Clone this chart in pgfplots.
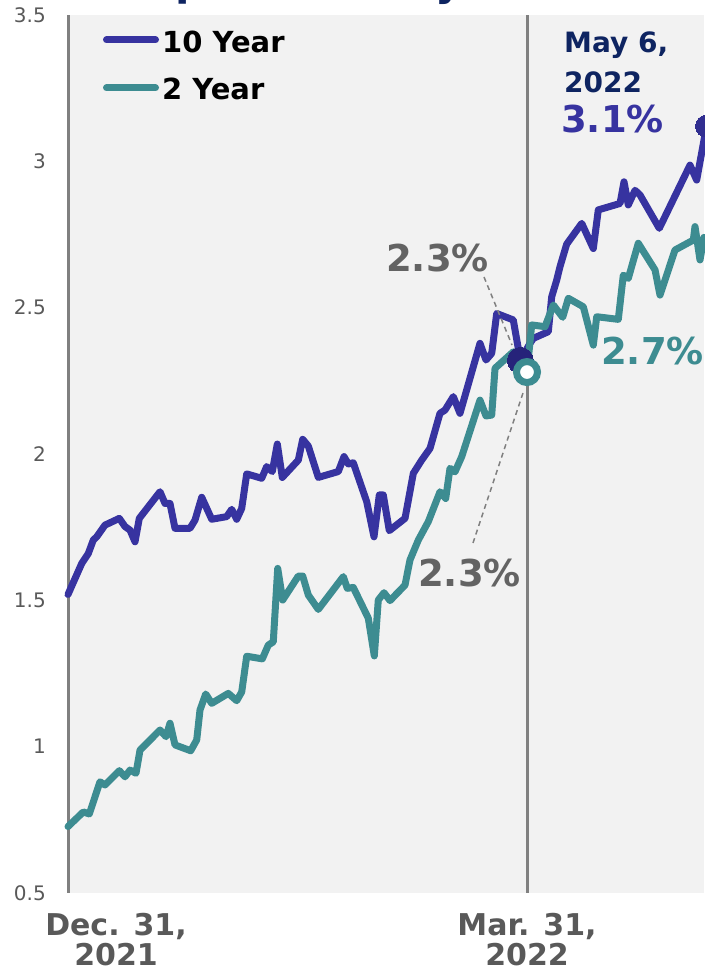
\documentclass[border=0pt]{standalone}
\usepackage{pgfplots}
\pgfplotsset{compat=1.18}
\usepackage{fontspec}
\setmainfont{DejaVu Sans}
\definecolor{tenY}{HTML}{3733A0}
\definecolor{twoY}{HTML}{3D8C91}
\definecolor{navy}{HTML}{0E2461}
\definecolor{darknavy}{HTML}{26237A}
\definecolor{bg}{HTML}{F2F2F2}
\definecolor{axgray}{HTML}{808080}
\definecolor{tickgray}{HTML}{595959}
\definecolor{anngray}{HTML}{636363}
\newcommand{\annfont}{\fontsize{37}{40}\selectfont\bfseries}
\newcommand{\legfont}{\fontsize{29}{32}\selectfont\bfseries}
\newcommand{\marlabel}{Mar. 31,\\2022}
\newcommand{\declabel}{Dec. 31,\\2021}
\begin{document}
\begin{tikzpicture}[x=1pt,y=1pt]
\path[use as bounding box] (0,0) rectangle (704,971);
\begin{axis}[
  at={(68pt,78pt)}, anchor=south west,
  scale only axis, width=636pt, height=878pt,
  xmin=0, xmax=124.706, ymin=0.5, ymax=3.5,
  clip=false,
  axis background/.style={fill=bg},
  axis x line*=bottom, axis y line*=left,
  x axis line style={draw=none},
  y axis line style={axgray, line width=3pt, -},
  major tick length=0pt,
  ytick={0.5,1,1.5,2,2.5,3,3.5},
  yticklabels={0.5,1,1.5,2,2.5,3,3.5},
  yticklabel style={font=\fontsize{20}{20}\selectfont, text=tickgray, inner sep=0pt, anchor=east, xshift=-22pt},
  xtick={90},
  xticklabels={\marlabel},
  extra x ticks={0},
  extra x tick labels={\declabel},
  extra x tick style={xticklabel style={xshift=48pt}},
  xticklabel style={font=\fontsize{30}{30}\selectfont\bfseries, text=tickgray, align=center, inner sep=0pt, anchor=north, yshift=-20pt},
  /pgf/number format/assume math mode=true,
]
\draw[axgray, line width=3pt] (axis cs:90,0.5) -- (axis cs:90,3.5);

\addplot[tenY, line width=7pt, line join=round, line cap=round] coordinates {
(0,1.52) (2.69,1.626) (3.98,1.66) (4.96,1.706) (5.63,1.717) (7.25,1.757) (10.06,1.78) (11.18,1.752) (12.16,1.74) (13.14,1.70) (13.98,1.78) (18.04,1.871) (19.02,1.831) (20.0,1.831) (20.98,1.746) (23.92,1.746) (24.9,1.774) (26.22,1.852) (28.18,1.777) (31.12,1.786) (32.1,1.811) (33.08,1.777) (34.06,1.814) (35.04,1.932) (37.98,1.917) (38.96,1.957) (40.06,1.94) (41.04,2.034) (42.02,1.92) (45.16,1.979) (46.02,2.05) (47.12,2.027) (49.08,1.92) (53.0,1.94) (54.12,1.991) (54.96,1.966) (55.94,1.97) (58.57,1.837) (60.0,1.717) (61.04,1.86) (61.82,1.86) (63.0,1.738) (66.08,1.78) (67.71,1.934) (69.35,1.979) (70.98,2.019) (72.94,2.139) (73.92,2.15) (75.55,2.196) (76.86,2.139) (80.78,2.378) (81.96,2.321) (83.08,2.344) (84.06,2.48) (87.31,2.458) (88.7,2.32) (90.59,2.378) (91.24,2.395) (94.18,2.418) (94.84,2.537) (95.82,2.594) (96.47,2.64) (97.78,2.717) (100.73,2.788) (103.0,2.702) (103.98,2.834) (108.24,2.856) (109.02,2.93) (109.86,2.851) (111.18,2.901) (112.16,2.885) (115.94,2.771) (121.96,2.987) (123.27,2.936) (125.2,3.12)
};
\addplot[twoY, line width=7pt, line join=round, line cap=round] coordinates {
(0,0.727) (3.0,0.777) (4.18,0.77) (6.27,0.88) (7.25,0.869) (10.06,0.918) (11.18,0.897) (12.16,0.92) (13.33,0.909) (14.12,0.988) (18.04,1.057) (19.22,1.034) (20.0,1.08) (20.98,1.006) (24.06,0.986) (25.24,1.023) (25.88,1.125) (27.0,1.18) (28.18,1.148) (31.43,1.182) (33.08,1.157) (34.06,1.187) (35.04,1.309) (38.1,1.30) (39.27,1.347) (40.25,1.358) (41.12,1.609) (42.1,1.501) (45.16,1.583) (46.02,1.583) (47.12,1.518) (49.08,1.469) (53.98,1.581) (54.76,1.541) (55.94,1.544) (58.88,1.439) (60.06,1.31) (60.84,1.501) (61.96,1.526) (63.14,1.499) (66.08,1.552) (67.06,1.638) (68.69,1.706) (70.65,1.769) (72.94,1.871) (74.06,1.848) (74.9,1.951) (75.88,1.939) (77.2,1.991) (80.78,2.184) (81.96,2.13) (83.08,2.133) (83.73,2.293) (87.31,2.349) (90,2.28) (90.92,2.441) (93.53,2.435) (95.16,2.509) (97.0,2.467) (98.1,2.532) (101.04,2.503) (103.0,2.372) (103.67,2.469) (107.9,2.46) (108.88,2.611) (109.86,2.6) (111.82,2.72) (115.1,2.629) (116.08,2.543) (119.02,2.697) (122.61,2.731) (122.94,2.777) (123.92,2.663) (124.7,2.74) (125.5,2.72)
};
\addplot[only marks, mark=*, mark size=13pt, mark options={fill=darknavy, draw=darknavy, line width=0pt}] coordinates {(88.7,2.32)};
\addplot[only marks, mark=*, mark size=10.5pt, mark options={fill=white, draw=twoY, line width=7pt}] coordinates {(90,2.28)};
\addplot[only marks, mark=*, mark size=11pt, mark options={fill=tenY!90!black, draw=tenY!90!black, line width=0pt}] coordinates {(125.2,3.12)};
\end{axis}
% title fragment (clipped at the top edge, as in the reference)
\node[anchor=base west, inner sep=0pt, text=navy, font=\fontsize{42}{42}\selectfont\bfseries] at (175,975) {p};
\node[anchor=base west, inner sep=0pt, text=navy, font=\fontsize{42}{42}\selectfont\bfseries] at (435,975) {y};
% legend
\draw[tenY, line width=7pt, line cap=round] (106.5,931) -- (155.5,931);
\draw[twoY, line width=7pt, line cap=round] (106.5,883) -- (155.5,883);
\node[anchor=base west, inner sep=0pt, font=\legfont] at (162,918.7) {10 Year};
\node[anchor=base west, inner sep=0pt, font=\legfont] at (162,871) {2 Year};
% annotations
\node[anchor=base west, inner sep=0pt, text=navy, font=\fontsize{28}{28}\selectfont\bfseries] at (564,918) {May 6,};
\node[anchor=base west, inner sep=0pt, text=navy, font=\fontsize{28}{28}\selectfont\bfseries] at (564,878) {2022};
\node[anchor=base west, inner sep=0pt, text=tenY, font=\annfont] at (561,838) {3.1\%};
\node[anchor=base west, inner sep=0pt, text=anngray, font=\annfont] at (386,699.3) {2.3\%};
\node[anchor=base west, inner sep=0pt, text=anngray, font=\annfont] at (418,384.3) {2.3\%};
\node[anchor=base west, inner sep=0pt, text=twoY, font=\annfont] at (601,606) {2.7\%};
\draw[axgray, line width=1.5pt, dash pattern=on 5pt off 4pt] (484,694) -- (512,626);
\draw[axgray, line width=1.5pt, dash pattern=on 5pt off 4pt] (473,428) -- (523,578);
\end{tikzpicture}
\end{document}
